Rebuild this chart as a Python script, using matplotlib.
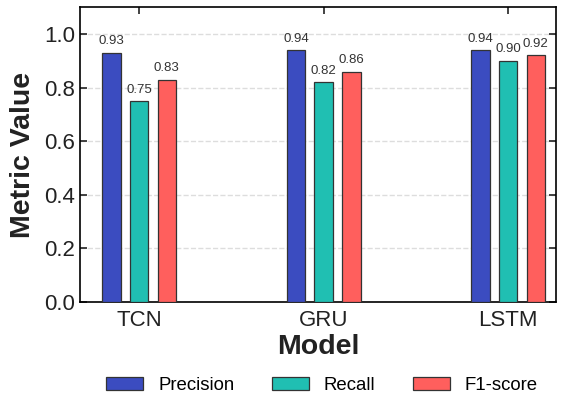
import matplotlib.pyplot as plt
import numpy as np

plt.rcParams["font.family"] = ["Liberation Sans", "DejaVu Sans"]

models = ["TCN", "GRU", "LSTM"]
precision = [0.93, 0.94, 0.94]
recall = [0.75, 0.82, 0.90]
f1_score = [0.83, 0.86, 0.92]

series = [
    ("Precision", precision, "#3b4cc0"),
    ("Recall", recall, "#20bfb2"),
    ("F1-score", f1_score, "#ff5f5d"),
]

fig, ax = plt.subplots(figsize=(5.64, 3.97), dpi=100)
x = np.arange(len(models))
width = 0.1
offset = 0.15

for i, (label, values, color) in enumerate(series):
    pos = x + (i - 1) * offset
    bars = ax.bar(pos, values, width, label=label, color=color,
                  edgecolor="#333333", linewidth=0.9, zorder=3)
    for b, v in zip(bars, values):
        ax.text(b.get_x() + b.get_width() / 2, v + 0.02, f"{v:.2f}",
                ha="center", va="bottom", fontsize=9.5, color="#333333")

ax.set_xlim(-0.32, 2.26)
ax.set_ylim(0, 1.1)
ax.set_yticks(np.arange(0, 1.01, 0.2))
ax.set_xticks(x)
ax.set_xticklabels(models)
ax.tick_params(axis="both", direction="in", top=True, right=True,
               labelsize=16, length=5, width=1.2, colors="#222222")
ax.tick_params(axis="x", pad=6)
ax.grid(axis="y", linestyle="--", color="#dddddd", linewidth=1.0, zorder=0)
for s in ax.spines.values():
    s.set_linewidth(1.2)

ax.set_xlabel("Model", fontsize=20.5, fontweight="bold", labelpad=2,
              color="#222222")
ax.set_ylabel("Metric Value", fontsize=20.5, fontweight="bold", labelpad=6,
              color="#222222")

fig.legend(*ax.get_legend_handles_labels(), loc="center",
           bbox_to_anchor=(0.571, 0.03), ncol=3, frameon=False, fontsize=13.4,
           handlelength=2.0, columnspacing=2.0)

fig.subplots_adjust(left=0.142, right=0.986, top=0.982, bottom=0.239)
fig.savefig("out.png", dpi=100)
